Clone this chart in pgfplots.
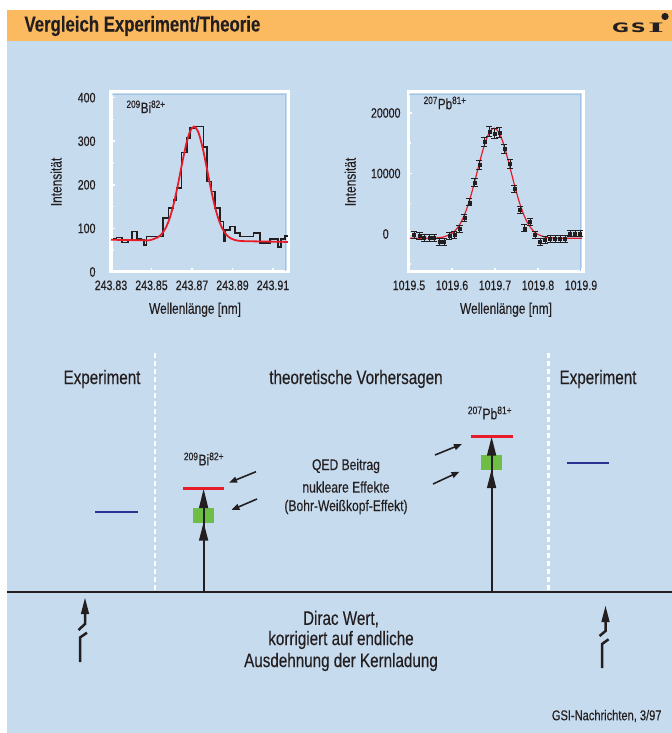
\documentclass[border=0pt]{standalone}
\usepackage{fontspec}
\setmainfont{Liberation Sans}[FakeStretch=0.78, FakeBold=0.3]
\newfontfamily\logofont{DejaVu Sans}[FakeStretch=1.6]
\newfontfamily\logoserif{DejaVu Serif}[FakeStretch=2.6]
\usepackage{pgfplots}
\pgfplotsset{compat=1.18}
\usetikzlibrary{arrows.meta}
\definecolor{bgblue}{RGB}{199,219,239}
\definecolor{hdrorange}{RGB}{252,186,96}
\definecolor{fitred}{RGB}{232,28,40}
\definecolor{qgreen}{RGB}{110,190,70}
\definecolor{expblue}{RGB}{40,50,145}
\definecolor{txt}{RGB}{35,31,32}
\definecolor{frameshadow}{RGB}{160,195,230}
\newcommand{\fs}[1]{\fontsize{#1bp}{#1bp}\selectfont}

% Bi spectrum: x = (lambda - 243.800 nm) * 1000, counts
\pgfplotstableread{
x y
31.1 76
32.8 79
35.3 68
38.4 74
40.4 93
42.8 76
44.8 74
46.4 62
47.6 81
55.8 124
58.3 147
60.8 165
62.4 193
64.9 274
67.4 308
69.0 331
71.5 334
75.6 287
77.3 208
79.7 185
81.4 147
83.8 116
85.5 70
86.3 97
88.8 104
91.2 89
93.7 81
100.3 89
103.6 66
108.5 76
112.6 58
113.8 76
115.9 83
117.4 83
}\bihist
\pgfplotstableread{
x y
30 74
35 73.6
40 73.2
45 72.9
49 72.7
51 75.5
53 79.3
55 87
57 101
59 123.7
61 156.8
63 199.2
65 246.4
67 290.5
69 322.3
71 333.7
73 322.1
75 290.1
77 245.8
79 198.4
81 155.8
83 122.5
85 99.6
87 85.4
89 77.5
91 73.5
95 70.9
105 70
117.4 69
}\bifit
% Pb spectrum: x = (lambda - 1019.500 nm) * 1000
\pgfplotstableread{
x y e
11.6 -165 550
24.0 -281 550
34.9 -612 550
47.2 -612 550
58.1 -612 550
70.5 -1273 550
81.4 -1273 550
93.7 -281 550
105.3 -165 550
117.0 827 550
128.6 2694 550
140.2 5240 600
151.9 8480 650
163.5 11405 700
175.1 15257 750
186.7 16910 800
199.3 16646 800
210.0 16745 800
221.6 14050 750
234.9 11571 700
244.9 7439 650
258.1 3967 600
268.1 942 600
281.4 2033 600
293.0 -165 550
304.7 -1273 550
316.3 -992 550
327.9 -827 550
339.5 -827 550
351.2 -827 550
362.8 -827 550
374.4 116 550
386.0 116 550
397.7 116 550
}\pbdata
\pgfplotstableread{
x y
2 -700
38 -695
58 -669
78 -533
98 3
108 603
118 1568
128 2995
138 4942
148 7368
158 10111
168 12880
178 15280
188 16918
198 17500
208 16918
218 15280
228 12880
238 10111
248 7368
258 4942
268 2995
278 1568
288 603
298 3
318 -533
338 -669
358 -695
402 -700
}\pbfit

\begin{document}
\begin{tikzpicture}
\path[use as bounding box] (0,0) rectangle (672bp,733bp);
\clip (0,0) rectangle (672bp,733bp);
% ---------- master canvas (pixel coordinates, y downwards) ----------
\begin{axis}[at={(0,0)}, anchor=south west, scale only axis,
  width=672bp, height=733bp, xmin=0, xmax=672, ymin=0, ymax=733,
  y dir=reverse, hide axis, clip=false]
\fill[white] (0,0) rectangle (672,733);
\fill[hdrorange] (7,10) rectangle (672,41);
\fill[bgblue] (7,41) rectangle (672,733);
\node[anchor=west, text=txt, font=\bfseries\fs{21.5}] at (21,26) {Vergleich Experiment/Theorie};
\node[anchor=base west, inner sep=0pt, text=txt, font=\logofont\bfseries\fs{13}] at (612,33) {G\kern1.5bp S};
\node[anchor=base west, inner sep=0pt, text=txt, font=\logoserif\bfseries\fs{13}] at (648,33) {I};
\fill[txt] (665,16.5) circle[radius=3.6bp];
% separators and base line
\addplot[white, line width=2.5bp, dash pattern=on 5bp off 3bp] coordinates {(155,353) (155,590)};
\addplot[white, line width=2.5bp, dash pattern=on 5bp off 3bp] coordinates {(548.6,353) (548.6,590)};
\addplot[txt, line width=2bp] coordinates {(7,591.5) (672,591.5)};
% Bi levels
\addplot[qgreen, fill=qgreen, draw=none] coordinates {(193,508) (213.5,508) (213.5,523) (193,523)} --cycle;
\addplot[txt, line width=1.8bp] coordinates {(203.6,591) (203.6,495)};
\addplot[txt, fill=txt, draw=none] coordinates {(203.6,522.5) (208.3,540.5) (198.9,540.5)} --cycle;
\addplot[txt, fill=txt, draw=none] coordinates {(203.6,489) (208.3,508) (198.9,508)} --cycle;
\addplot[fitred, line width=2.5bp] coordinates {(183.4,488.5) (223.7,488.5)};
\addplot[expblue, line width=2bp] coordinates {(95,512) (138,512)};
% Pb levels
\addplot[qgreen, fill=qgreen, draw=none] coordinates {(481,455) (501.5,455) (501.5,470) (481,470)} --cycle;
\addplot[txt, line width=1.8bp] coordinates {(491.6,591) (491.6,443)};
\addplot[txt, fill=txt, draw=none] coordinates {(491.6,469.5) (496.3,488) (486.9,488)} --cycle;
\addplot[txt, fill=txt, draw=none] coordinates {(491.6,437) (496.3,455.5) (486.9,455.5)} --cycle;
\addplot[fitred, line width=2.5bp] coordinates {(470.6,436.7) (513,436.7)};
\addplot[expblue, line width=2bp] coordinates {(566.6,462.7) (608.6,462.7)};
% pointer arrows
\addplot[txt, line width=1.6bp, -{Triangle[length=8bp,width=6bp]}] coordinates {(256,471.7) (229,482.7)};
\addplot[txt, line width=1.6bp, -{Triangle[length=8bp,width=6bp]}] coordinates {(257,499) (231.4,510)};
\addplot[txt, line width=1.6bp, -{Triangle[length=8bp,width=6bp]}] coordinates {(435,455) (462,444)};
\addplot[txt, line width=1.6bp, -{Triangle[length=8bp,width=6bp]}] coordinates {(433,484) (459.5,471.7)};
% broken arrows
\addplot[txt, line width=2.5bp] coordinates {(78.5,630) (85,624) (85,610)};
\addplot[txt, fill=txt, draw=none] coordinates {(85,598) (89.2,614) (80.8,614)} --cycle;
\addplot[txt, line width=2.5bp] coordinates {(87,632.7) (80,637.5) (80,662)};
\addplot[txt, line width=2.5bp] coordinates {(599.5,636) (605.5,631) (605.5,618)};
\addplot[txt, fill=txt, draw=none] coordinates {(605.5,606) (609.7,622) (601.3,622)} --cycle;
\addplot[txt, line width=2.5bp] coordinates {(608.6,639.3) (602,644) (602,668)};
% texts
\node[text=txt, font=\fs{19.5}] at (102,379) {Experiment};
\node[text=txt, font=\fs{19.5}] at (356,379) {theoretische Vorhersagen};
\node[text=txt, font=\fs{19.5}] at (598,379) {Experiment};
\node[text=txt, font=\fs{15.5}] at (204,459) {\textsuperscript{209}Bi\textsuperscript{82+}};
\node[text=txt, font=\fs{15.5}] at (490,413) {\textsuperscript{207}Pb\textsuperscript{81+}};
\node[text=txt, font=\fs{15.5}] at (346,466) {QED Beitrag};
\node[text=txt, font=\fs{15.5}] at (346,487) {nukleare Effekte};
\node[text=txt, font=\fs{15.5}] at (346,507) {(Bohr-Weißkopf-Effekt)};
\node[text=txt, font=\fs{19.5}] at (341,619) {Dirac Wert,};
\node[text=txt, font=\fs{19.5}] at (341,640) {korrigiert auf endliche};
\node[text=txt, font=\fs{19.5}] at (341,662) {Ausdehnung der Kernladung};
\node[anchor=east, text=txt, font=\fs{14.2}] at (665,716) {GSI-Nachrichten, 3/97};
\end{axis}

% ---------- Bi spectrum ----------
\begin{axis}[at={(111bp,461bp)}, anchor=south west, scale only axis,
  width=177bp, height=180bp,
  xmin=30, xmax=117.4, ymin=0, ymax=413,
  axis line style={white, line width=3bp},
  tick style={white, line width=1.5bp}, tick align=inside,
  major tick length=4bp, minor tick length=3bp,
  xtick pos=bottom, ytick pos=left, scaled ticks=false,
  xtick={30,50,70,90,110},
  xticklabels={243.83,243.85,243.87,243.89,243.91},
  ytick={0,100,200,300,400}, yticklabels={0,100,200,300,400},
  minor ytick={50,150,250,350},
  ticklabel style={font=\fs{13.6}, text=txt},
  xticklabel style={yshift=-5bp},
  yticklabel style={xshift=-12bp},
  xlabel={Wellenlänge [nm]}, ylabel={Intensität},
  label style={font=\fs{15.3}, text=txt},
  xlabel style={at={(axis description cs:0.475,-0.21)}, anchor=center},
  ylabel style={at={(axis description cs:-0.31,0.5)}, anchor=center},
  clip=false]
\draw[frameshadow, line width=1.5bp] (rel axis cs:0.005,0.986) -- (rel axis cs:0.986,0.986) -- (rel axis cs:0.986,0.005);
\addplot[const plot, color=txt, line width=1.6bp] table[x=x,y=y] {\bihist};
\addplot[fitred, line width=1.8bp, smooth] table[x=x,y=y] {\bifit};
\node[text=txt, font=\fs{15}] at (axis cs:47.3,379) {\textsuperscript{209}Bi\textsuperscript{82+}};
\end{axis}

% ---------- Pb spectrum ----------
\begin{axis}[at={(408bp,461bp)}, anchor=south west, scale only axis,
  width=175bp, height=180bp,
  xmin=-2.3, xmax=404.7, ymin=-6281, ymax=23471,
  axis line style={white, line width=3bp},
  tick style={white, line width=1.5bp}, tick align=inside,
  major tick length=4bp, minor tick length=3bp,
  xtick pos=bottom, ytick pos=left, scaled ticks=false,
  xtick={0,100,200,300,400},
  xticklabels={1019.5,1019.6,1019.7,1019.8,1019.9},
  ytick={0,10000,20000}, yticklabels={0\hphantom{00},10000,20000},
  minor ytick={-5000,5000,15000},
  ticklabel style={font=\fs{13.6}, text=txt},
  xticklabel style={yshift=-5bp},
  yticklabel style={xshift=-4bp},
  xlabel={Wellenlänge [nm]}, ylabel={Intensität},
  label style={font=\fs{15.3}, text=txt},
  xlabel style={at={(axis description cs:0.56,-0.21)}, anchor=center},
  ylabel style={at={(axis description cs:-0.33,0.5)}, anchor=center},
  clip=false]
\draw[frameshadow, line width=1.5bp] (rel axis cs:0.005,0.986) -- (rel axis cs:0.986,0.986) -- (rel axis cs:0.986,0.005);
\addplot[fitred, line width=1.2bp, smooth] table[x=x,y=y] {\pbfit};
\addplot[only marks, mark=square*, mark size=1.5bp, color=txt,
  error bars/.cd, y dir=both, y explicit,
  error bar style={line width=0.9bp, txt},
  error mark options={rotate=90, mark size=3.2bp, line width=0.9bp, txt}]
  table[x=x,y=y,y error=e] {\pbdata};
\node[text=txt, font=\fs{15}] at (axis cs:84,21650) {\textsuperscript{207}Pb\textsuperscript{81+}};
\end{axis}
\end{tikzpicture}
\end{document}
